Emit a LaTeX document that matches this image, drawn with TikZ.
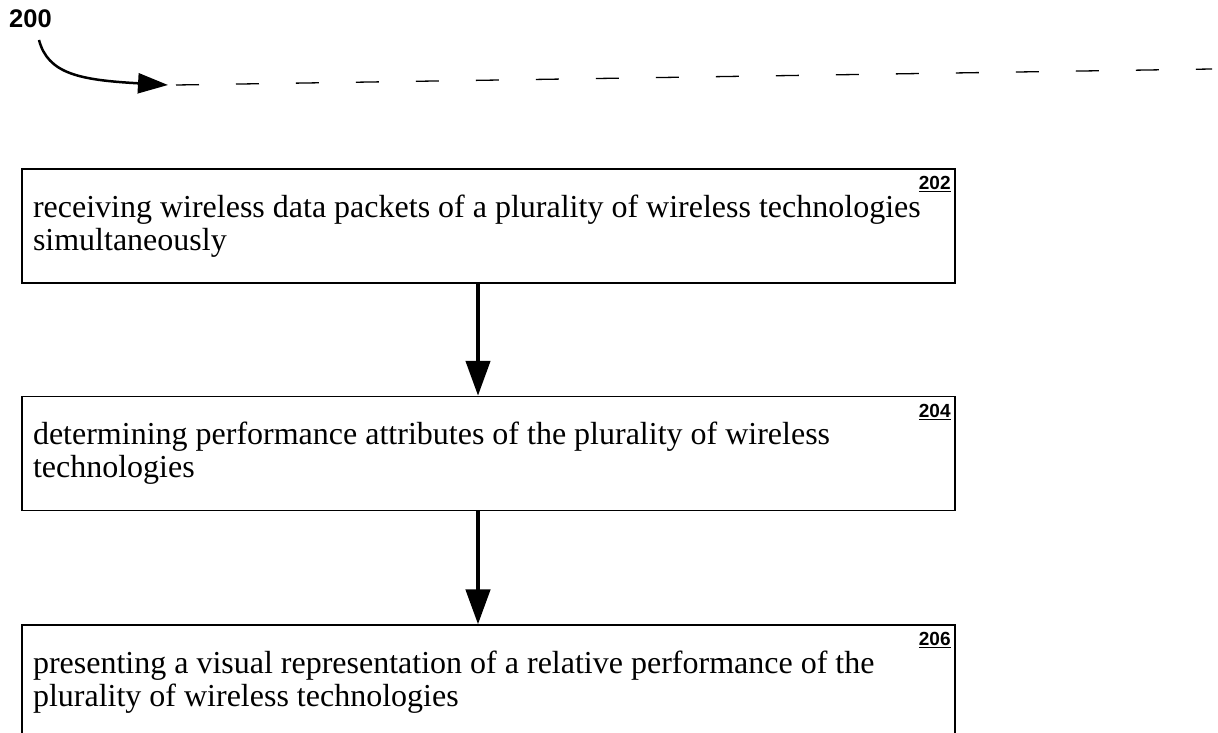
\documentclass[tikz,border=0pt]{standalone}
\usepackage{fontspec}
\setmainfont{Liberation Serif}
\setsansfont{Liberation Sans}
\usetikzlibrary{positioning, arrows.meta}

\tikzset{
  stepbox/.style={draw, line width=1.6pt, rectangle, minimum width=933pt, minimum height=114pt,
    text width=911pt, inner xsep=11pt, inner ysep=0pt, align=flush left, font=\fontsize{32}{33}\selectfont},
  reflabel/.style={font=\sffamily\bfseries\fontsize{19}{21}\selectfont, inner sep=0pt},
  flow/.style={line width=4.5pt, -{Triangle[length=35pt,width=24pt]}},
  leader/.style={line width=2.5pt, -{Triangle[length=30pt,width=20pt]}},
  dashline/.style={line width=1.3pt, dash pattern=on 23pt off 37pt},
}

\begin{document}
\begin{tikzpicture}[x=1pt,y=-1pt]
	\useasboundingbox (0,0) rectangle (1218,733);
	\node[stepbox] (recv) at (488.5,226) {receiving wireless data packets of a plurality of wireless technologies\\simultaneously};
	\node[stepbox, below=112pt of recv] (perf) {determining performance attributes of the plurality of wireless\\technologies};
	\node[stepbox, below=113pt of perf] (visu) {presenting a visual representation of a relative performance of the\\plurality of wireless technologies};

	\node[reflabel, anchor=north east] (recvnum) at ([xshift=-5pt,yshift=-8pt]recv.north east) {\underline{202}};
	\node[reflabel, anchor=north east] (perfnum) at ([xshift=-5pt,yshift=-8pt]perf.north east) {\underline{204}};
	\node[reflabel, anchor=north east] (visunum) at ([xshift=-5pt,yshift=-8pt]visu.north east) {\underline{206}};

	\path[draw, flow] ([xshift=-10.5pt]recv.south) -- ([xshift=-10.5pt]perf.north);
	\path[draw, flow] ([xshift=-10.5pt]perf.south) -- ([xshift=-10.5pt]visu.north);

	\node[reflabel, font=\sffamily\bfseries\fontsize{25.5}{27}\selectfont, anchor=north west] (fig) at (9,9) {200};
	\coordinate (figtail) at (39,40);
	\coordinate (dashstart) at (168,85);
	\coordinate (dashend) at (1212,69);
	\path[draw, leader] (figtail) .. controls (48,74) and (80,80) .. (dashstart);
	\path[draw, dashline] ([xshift=8pt]dashstart) -- (dashend);
\end{tikzpicture}
\end{document}
